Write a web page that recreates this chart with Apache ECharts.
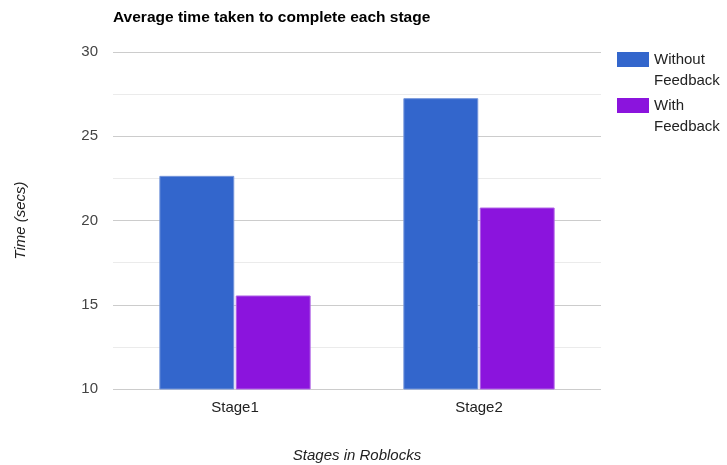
<!DOCTYPE html>
<html>
<head>
<meta charset="utf-8">
<script src="https://cdn.jsdelivr.net/npm/echarts@6/dist/echarts.min.js"></script>
<style>html,body{margin:0;padding:0;background:#fff}#c{width:727px;height:465px}</style>
</head>
<body>
<div id="c"></div>
<script>
var categories = ['Stage1', 'Stage2'];
var withoutFeedback = [22.65, 27.26];
var withFeedback = [15.55, 20.77];
var seriesNames = ['Without\nFeedback', 'With\nFeedback'];
var yTicks = [10, 15, 20, 25, 30];

var font = '"Liberation Sans", Arial, sans-serif';
var chart = echarts.init(document.getElementById('c'));
chart.setOption({
  animation: false,
  textStyle: {fontFamily: font},
  title: {
    text: 'Average time taken to complete each stage',
    left: 113, top: 10, padding: 0,
    textStyle: {fontFamily: font, fontSize: 15.5, fontWeight: 'bold', color: '#000'}
  },
  legend: {
    orient: 'vertical', left: 617, top: 49, padding: 0,
    itemWidth: 32, itemHeight: 36, itemGap: 4,
    icon: 'path://M0,0h32v15h-32z M0,36h32',
    itemStyle: {borderWidth: 0},
    textStyle: {fontFamily: font, fontSize: 15, color: '#222', lineHeight: 21},
    data: seriesNames
  },
  grid: {left: 113, top: 52, width: 488, height: 337, outerBoundsMode: 'none', containLabel: false},
  xAxis: {
    type: 'category', data: categories,
    name: 'Stages in Roblocks', nameLocation: 'middle', nameGap: 59,
    nameTextStyle: {fontFamily: font, fontSize: 15, fontStyle: 'italic', color: '#222'},
    axisLine: {show: false}, axisTick: {show: false},
    axisLabel: {fontFamily: font, fontSize: 15, color: '#222', margin: 11}
  },
  yAxis: {
    type: 'value', min: yTicks[0], max: yTicks[yTicks.length - 1], interval: 5,
    name: 'Time (secs)', nameLocation: 'middle', nameGap: 85,
    nameTextStyle: {fontFamily: font, fontSize: 15, fontStyle: 'italic', color: '#222'},
    axisLine: {show: false}, axisTick: {show: false},
    axisLabel: {fontFamily: font, fontSize: 15, color: '#444', margin: 15},
    splitLine: {lineStyle: {color: '#cccccc', width: 1}},
    minorTick: {show: false, splitNumber: 2},
    minorSplitLine: {show: true, lineStyle: {color: '#ebebeb', width: 1}}
  },
  series: [
    {
      name: seriesNames[0], type: 'bar', data: withoutFeedback,
      barCategoryGap: '38%', barGap: '2%',
      itemStyle: {color: '#3366cc', borderColor: '#7595db', borderWidth: 1}
    },
    {
      name: seriesNames[1], type: 'bar', data: withFeedback,
      itemStyle: {color: '#8b14dd', borderColor: '#b064e6', borderWidth: 1}
    }
  ]
});
</script>
</body>
</html>
